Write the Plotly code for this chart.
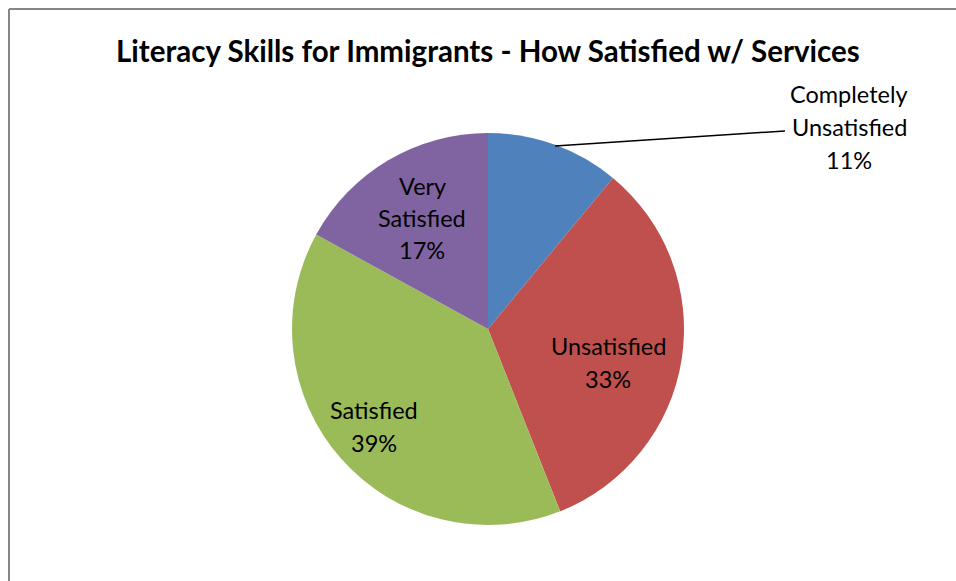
import plotly.graph_objects as go

categories = ["Completely Unsatisfied", "Unsatisfied", "Satisfied", "Very Satisfied"]
values = [11, 33, 39, 17]
colors = ["#4F81BD", "#C0504D", "#9BBB59", "#8064A2"]
title = "Literacy Skills for Immigrants - How Satisfied w/ Services"

W, H = 956, 581
cx, cy, r = 488, 329, 196

def px(x):
    return x / W

def py(y):
    return 1 - y / H

fig = go.Figure(go.Pie(
    labels=categories, values=values, sort=False, direction="clockwise", rotation=0,
    marker=dict(colors=colors, line=dict(width=0)),
    textinfo="none", hoverinfo="label+percent",
    domain=dict(x=[px(cx - r), px(cx + r)], y=[py(cy + r), py(cy - r)]),
    showlegend=False,
))

label_lines = {
    "Completely Unsatisfied": (["Completely", "Unsatisfied"], 849, [94, 127, 160]),
    "Unsatisfied": (["Unsatisfied"], 608, [346, 379]),
    "Satisfied": (["Satisfied"], 374, [410, 443]),
    "Very Satisfied": (["Very", "Satisfied"], 422, [186, 218, 250]),
}
font = dict(family="Lato, Calibri, Carlito, sans-serif", size=23.5, color="#000000")
annotations = []
for cat, v in zip(categories, values):
    lines, x, ys = label_lines[cat]
    texts = lines + [f"{v}%"]
    for t, y in zip(texts, ys):
        annotations.append(dict(text=t, x=px(x), y=py(y), xref="paper", yref="paper",
                                xanchor="center", yanchor="middle", showarrow=False, font=font))

annotations.append(dict(text=f"<b>{title}</b>", x=px(488), y=py(50), xref="paper", yref="paper",
                        xanchor="center", yanchor="middle", showarrow=False,
                        font=dict(family="Lato, Calibri, Carlito, sans-serif", size=29.5, color="#000000")))

shapes = [
    dict(type="line", xref="paper", yref="paper", x0=px(555), y0=py(146), x1=px(785), y1=py(131),
         line=dict(color="#000000", width=1.5)),
    dict(type="line", xref="paper", yref="paper", x0=px(9), y0=py(9), x1=px(9), y1=py(600),
         line=dict(color="#868686", width=2)),
    dict(type="line", xref="paper", yref="paper", x0=px(9), y0=py(9), x1=px(1000), y1=py(9),
         line=dict(color="#868686", width=2)),
]

fig.update_layout(
    width=W, height=H, margin=dict(l=0, r=0, t=0, b=0),
    paper_bgcolor="#FFFFFF", plot_bgcolor="#FFFFFF",
    annotations=annotations, shapes=shapes,
)
fig.write_html("out.html", config={"displayModeBar": False},
               post_script="document.body.style.margin='0px';document.documentElement.style.overflow='hidden';")
